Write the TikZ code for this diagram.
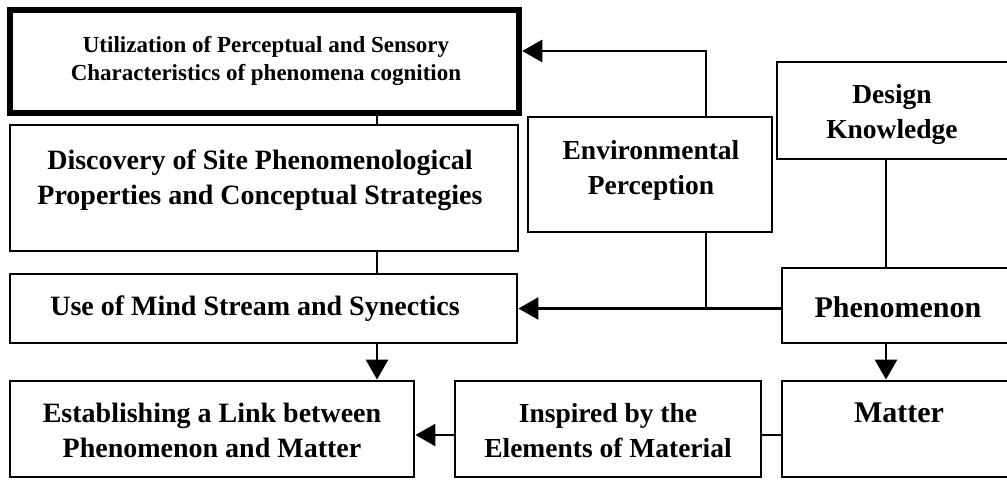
\documentclass[tikz,border=0pt]{standalone}
\usepackage{fontspec}
\setmainfont{Liberation Serif}
\usetikzlibrary{arrows.meta}
\begin{document}
\begin{tikzpicture}[x=1pt,y=-1pt,
  box/.style={draw=black,line width=2.9pt,rectangle,inner sep=0pt,fill=none},
  heavybox/.style={box,line width=6.5pt},
  lbl/.style={align=center,inner sep=0pt,font=\fontsize{28}{35}\selectfont\bfseries},
  lblsmall/.style={lbl,font=\fontsize{23}{28.5}\selectfont\bfseries},
  lblmid/.style={lbl,font=\fontsize{27.5}{35}\selectfont\bfseries},
  lblbig/.style={lbl,font=\fontsize{30}{36}\selectfont\bfseries},
  link/.style={draw=black,line width=2.9pt},
  arr/.style={link,-{Triangle[length=20pt,width=22pt]}}]
\useasboundingbox (0,0) rectangle (1007,480);
\fill[white] (0,0) rectangle (1007,480);

% boxes (outline only); the right-hand column runs past the page edge
\node[heavybox,minimum width=509pt,minimum height=103pt] (b1) at (264.5,61.5) {};
\node[box,minimum width=508pt,minimum height=126pt] (b2) at (264,188) {};
\node[box,minimum width=507pt,minimum height=69pt] (b3) at (263.5,308.5) {};
\node[box,minimum width=404pt,minimum height=96pt] (b4) at (212,429) {};
\node[box,minimum width=306pt,minimum height=96pt] (insp) at (608,429) {};
\node[box,minimum width=238pt,minimum height=96pt] (matter) at (901,429) {};
\node[box,minimum width=238pt,minimum height=75pt] (phen) at (901,305.5) {};
\node[box,minimum width=243pt,minimum height=97pt] (design) at (898.5,110.5) {};
\node[box,minimum width=244pt,minimum height=115pt] (env) at (650,174.5) {};

% labels
\node[lblsmall] (t1) at (266,61) {Utilization of Perceptual and Sensory\\Characteristics of phenomena cognition};
\node[lbl] (t2) at (260,180) {Discovery of Site Phenomenological\\Properties and Conceptual Strategies};
\node[lbl] (t3) at (255,309) {Use of Mind Stream and Synectics};
\node[lbl] (t4) at (212,430) {Establishing a Link between\\Phenomenon and Matter};
\node[lblmid] (t5) at (608,431) {Inspired by the\\Elements of Material};
\node[lblbig] (t6) at (899,413) {Matter};
\node[lblbig] (t7) at (898,307) {Phenomenon};
\node[lblmid] (t8) at (892,114) {Design\\Knowledge};
\node[lblmid] (t9) at (651,170) {Environmental\\Perception};

% junction columns and rows
\coordinate (colA) at (377,0);
\coordinate (colB) at (706,0);
\coordinate (colC) at (886,0);
\coordinate (rowTop) at (0,51);
\coordinate (rowLow) at (0,435);

% connectors
\draw[link] (b1.south -| colA) -- (b2.north -| colA);
\draw[link] (b2.south -| colA) -- (b3.north -| colA);
\draw[arr] (b3.south -| colA) -- (b4.north -| colA);
\draw[arr] (env.north -| colB) |- (b1.east |- rowTop);
\draw[link] (env.south -| colB) -- (colB |- b3.east);
\draw[arr] (phen.west |- b3.east) -- (b3.east);
\draw[link] (design.south -| colC) -- (phen.north -| colC);
\draw[arr] (phen.south -| colC) -- (matter.north -| colC);
\draw[link] (matter.west |- rowLow) -- (insp.east |- rowLow);
\draw[arr] (insp.west |- rowLow) -- (b4.east |- rowLow);
\end{tikzpicture}
\end{document}
